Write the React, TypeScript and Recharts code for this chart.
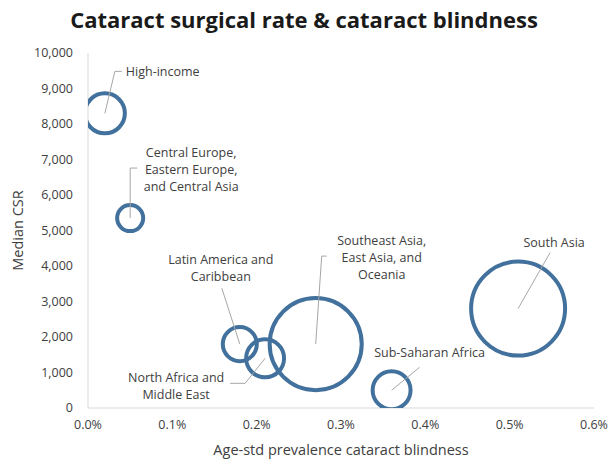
import React from "react";
import {
  ScatterChart,
  Scatter,
  XAxis,
  YAxis,
  ZAxis,
} from "recharts";

// Regions, prevalence of cataract blindness (%), median CSR, bubble size
const regions = [
  "High-income",
  "Central Europe, Eastern Europe, and Central Asia",
  "Latin America and Caribbean",
  "North Africa and Middle East",
  "Southeast Asia, East Asia, and Oceania",
  "Sub-Saharan Africa",
  "South Asia",
];
const prevalence = [0.02, 0.05, 0.18, 0.21, 0.27, 0.36, 0.51];
const medianCsr = [8300, 5350, 1800, 1400, 1800, 500, 2800];
const bubbleSize = [4.0, 1.7, 2.9, 3.6, 21.2, 3.6, 22.1];

const xTicks = [0, 0.1, 0.2, 0.3, 0.4, 0.5, 0.6];
const yTicks = [0, 1000, 2000, 3000, 4000, 5000, 6000, 7000, 8000, 9000, 10000];

const data = regions.map((name, i) => ({
  name,
  x: prevalence[i],
  y: medianCsr[i],
  z: bubbleSize[i],
}));

// label layout: text lines, text block centre offset, leader line points (relative to bubble centre)
const LABELS: Record<
  string,
  { lines: string[]; tx: number; ty: number; anchor: string; leader: [number, number][] }
> = {
  "High-income": {
    lines: ["High-income"],
    tx: 21,
    ty: -41,
    anchor: "start",
    leader: [[0, 0], [10, -42], [17, -42]],
  },
  "Central Europe, Eastern Europe, and Central Asia": {
    lines: ["Central Europe,", "Eastern Europe,", "and Central Asia"],
    tx: 61,
    ty: -48,
    anchor: "middle",
    leader: [[0, 0], [0, -50], [7, -50]],
  },
  "Latin America and Caribbean": {
    lines: ["Latin America and", "Caribbean"],
    tx: -19,
    ty: -76,
    anchor: "middle",
    leader: [[0, 0], [-18, -56]],
  },
  "North Africa and Middle East": {
    lines: ["North Africa and", "Middle East"],
    tx: -89,
    ty: 28,
    anchor: "middle",
    leader: [[0, 0], [-20, 25], [-35, 25]],
  },
  "Southeast Asia, East Asia, and Oceania": {
    lines: ["Southeast Asia,", "East Asia, and", "Oceania"],
    tx: 66,
    ty: -86,
    anchor: "middle",
    leader: [[0, 0], [6, -88], [11, -88]],
  },
  "Sub-Saharan Africa": {
    lines: ["Sub-Saharan Africa"],
    tx: 38,
    ty: -37,
    anchor: "middle",
    leader: [[0, 0], [28, -23]],
  },
  "South Asia": {
    lines: ["South Asia"],
    tx: 36,
    ty: -66,
    anchor: "middle",
    leader: [[0, 0], [32, -56]],
  },
};

const BUBBLE_COLOR = "#41719C";
const LEADER_COLOR = "#A6A6A6";
const TEXT_COLOR = "#404040";
const FONT = "'Open Sans', 'Noto Sans', sans-serif";

// plot area (bubbles are clipped to it)
const PLOT = { x: 88, y: 53, w: 506, h: 355 };

const Bubble = (props: any) => {
  const { cx, cy, size, payload, index } = props;
  if (cx == null || cy == null) return null;
  const r = Math.sqrt((size ?? 0) / Math.PI);
  const lab = LABELS[payload.name];
  const clipId = `bubble-clip-${index ?? payload.name.length}`;
  return (
    <g>
      <defs>
        <clipPath id={clipId}>
          <rect x={PLOT.x} y={PLOT.y} width={PLOT.w} height={PLOT.h} />
        </clipPath>
      </defs>
      <circle
        cx={cx}
        cy={cy}
        r={r}
        fill="none"
        stroke={BUBBLE_COLOR}
        strokeWidth={4}
        clipPath={`url(#${clipId})`}
      />
      {lab && (
        <>
          <polyline
            points={lab.leader.map(([dx, dy]) => `${cx + dx},${cy + dy}`).join(" ")}
            fill="none"
            stroke={LEADER_COLOR}
            strokeWidth={1}
          />
          <text
            x={cx + lab.tx}
            y={cy + lab.ty}
            textAnchor={lab.anchor as any}
            fontSize={12.5}
            fontFamily={FONT}
            fill={TEXT_COLOR}
          >
            {lab.lines.map((line, i) => (
              <tspan
                key={i}
                x={cx + lab.tx}
                dy={i === 0 ? `${4 - ((lab.lines.length - 1) * 17) / 2}` : "17"}
              >
                {line}
              </tspan>
            ))}
          </text>
        </>
      )}
    </g>
  );
};

const App = () => {
  return (
    <div
      style={{
        position: "absolute",
        left: 0,
        top: 0,
        width: 608,
        height: 459,
        background: "#fff",
        fontFamily: FONT,
      }}
    >
      <div
        style={{
          position: "absolute",
          left: 0,
          top: 4,
          width: 608,
          textAlign: "center",
          fontSize: 22,
          fontWeight: 700,
          color: "#1a1a1a",
        }}
      >
        Cataract surgical rate &amp; cataract blindness
      </div>
      <ScatterChart
        width={608}
        height={459}
        margin={{ top: 53, right: 14, bottom: 0, left: 0 }}
      >
        <XAxis
          type="number"
          dataKey="x"
          domain={[0, 0.6]}
          ticks={xTicks}
          allowDataOverflow
          tickFormatter={(v: number) => `${v.toFixed(1)}%`}
          tickLine={false}
          axisLine={{ stroke: "#D9D9D9" }}
          tick={{ fill: TEXT_COLOR, fontSize: 12.5, fontFamily: FONT }}
          tickMargin={6}
          height={51}
          label={{
            value: "Age-std prevalence cataract blindness",
            position: "center",
            dy: 16,
            fill: TEXT_COLOR,
            fontSize: 14.5,
            fontFamily: FONT,
          }}
        />
        <YAxis
          type="number"
          dataKey="y"
          domain={[0, 10000]}
          ticks={yTicks}
          allowDataOverflow
          tickFormatter={(v: number) => v.toLocaleString("en-US")}
          tickLine={false}
          axisLine={{ stroke: "#D9D9D9" }}
          tick={{ fill: TEXT_COLOR, fontSize: 12.5, fontFamily: FONT }}
          tickMargin={9}
          width={88}
          label={{
            value: "Median CSR",
            position: "center",
            angle: -90,
            dx: -26,
            fill: TEXT_COLOR,
            fontSize: 14.5,
            fontFamily: FONT,
          }}
        />
        <ZAxis type="number" dataKey="z" domain={[0, 22.1]} range={[0, 6940]} />
        <Scatter
          data={data}
          shape={<Bubble />}
          isAnimationActive={false}
        />
      </ScatterChart>
    </div>
  );
};

export default App;
